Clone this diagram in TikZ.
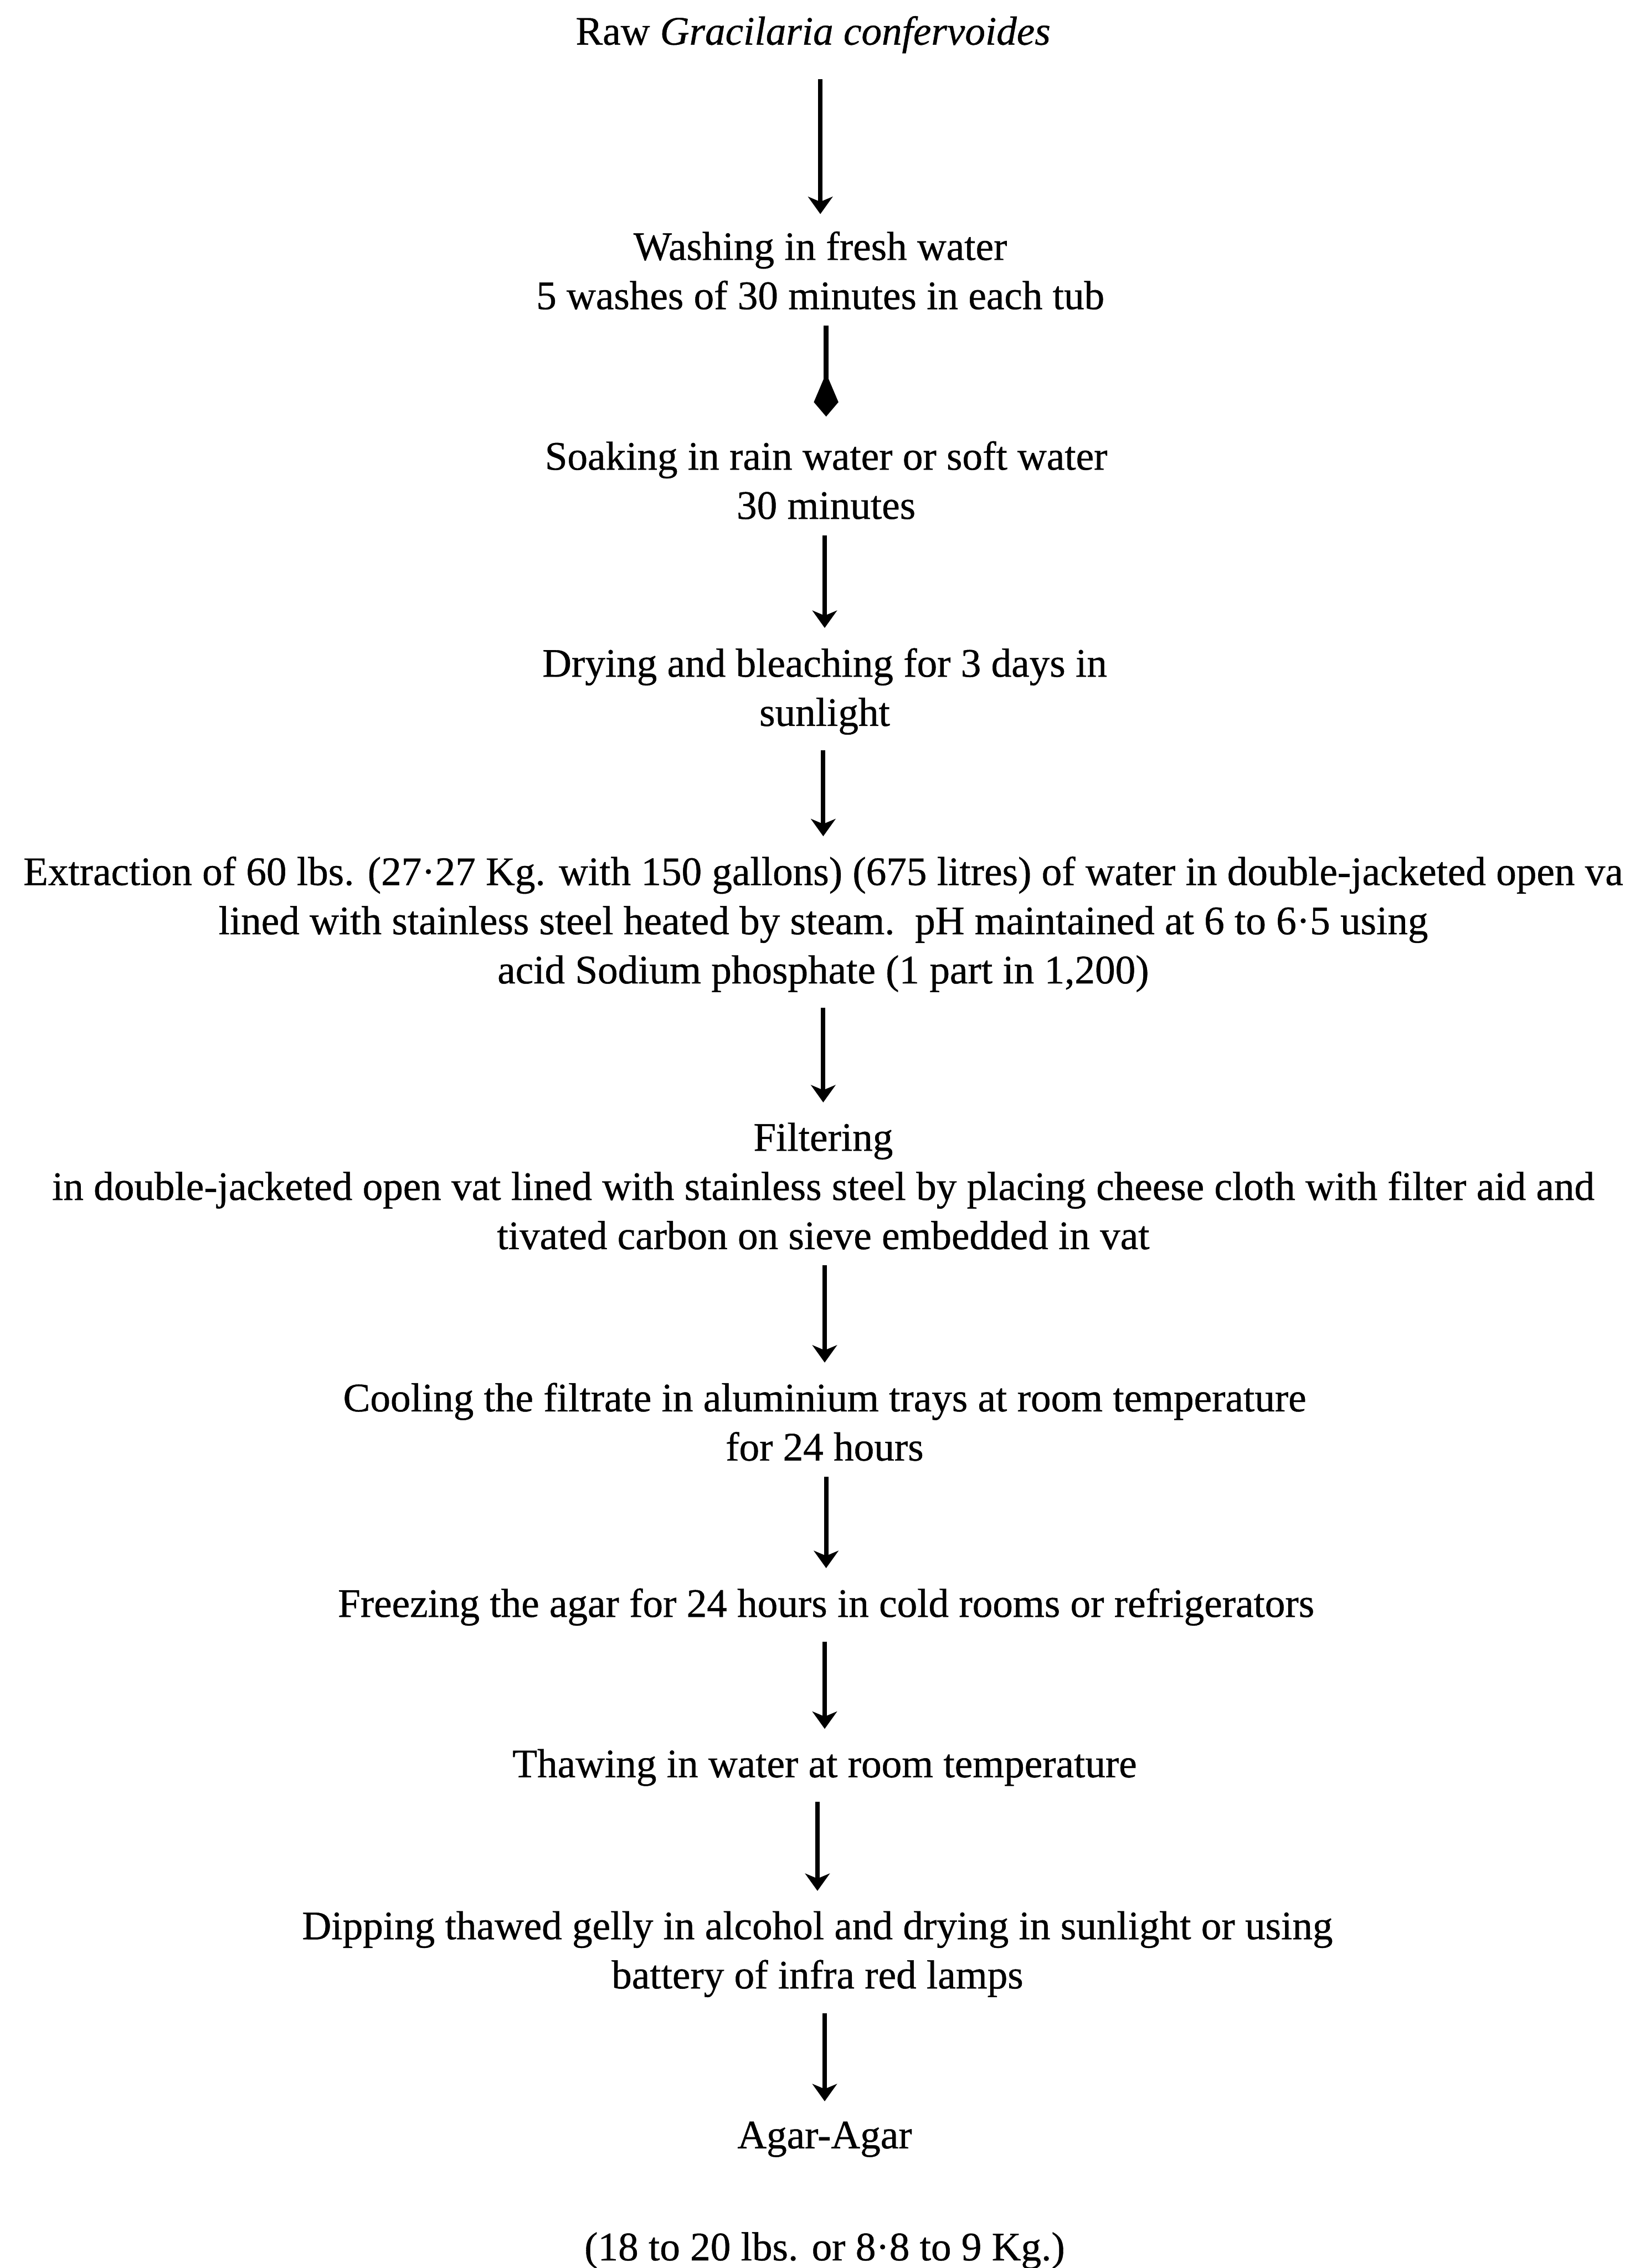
\documentclass[tikz,border=0pt]{standalone}
\usepackage{fontspec}
\setmainfont{Liberation Serif}[FakeBold=0.6]
\usetikzlibrary{arrows.meta}
\tikzset{
  txt/.style={align=center, inner sep=0pt, outer sep=0pt, font=\fontsize{28}{34}\selectfont},
  arr/.style={line width=3pt, -{Stealth[length=12pt, width=17pt, inset=3.5pt]}, shorten <=11pt, shorten >=14pt},
  kitearr/.style={line width=3.5pt, -{Kite[length=30pt, width=17pt, inset=20pt]}, shorten <=11pt, shorten >=17pt}
}
\begin{document}
\begin{tikzpicture}[x=1pt, y=1pt]
\useasboundingbox (0,0) rectangle (1123,-1568);
\fill[white] (0,0) rectangle (1123,-1568);
\node[txt] (n1) at (562,-24) {Raw \textit{Gracilaria confervoides}};
\node[txt] (n2) at (567,-187) {Washing in fresh water\\5 washes of 30 minutes in each tub};
\node[txt] (n3) at (571,-332) {Soaking in rain water or soft water\\30 minutes};
\node[txt] (n4) at (570,-478) {Drying and bleaching for 3 days in\\sunlight};
\node[txt] (n5) at (569,-639) {Extraction of 60 lbs. (27·27 Kg. with 150 gallons) (675 litres) of water in double-jacketed open va\\lined with stainless steel heated by steam.\ \ pH maintained at 6 to 6·5 using\\acid Sodium phosphate (1 part in 1,200)};
\node[txt] (n6) at (569,-820) {Filtering\\in double-jacketed open vat lined with stainless steel by placing cheese cloth with filter aid and\\tivated carbon on sieve embedded in vat};
\node[txt] (n7) at (570,-983) {Cooling the filtrate in aluminium trays at room temperature\\for 24 hours};
\node[txt] (n8) at (571,-1111) {Freezing the agar for 24 hours in cold rooms or refrigerators};
\node[txt] (n9) at (570,-1222) {Thawing in water at room temperature};
\node[txt] (n10) at (565,-1351) {Dipping thawed gelly in alcohol and drying in sunlight or using\\battery of infra red lamps};
\node[txt] (n11) at (570,-1479) {Agar-Agar};
\node[txt] (n12) at (570,-1556) {(18 to 20 lbs. or 8·8 to 9 Kg.)};

\draw[arr, shorten <=18pt, shorten >=12pt] (n1.south -| n2.north) -- (n2.north);
\draw[kitearr] (n2.south -| n3.north) -- (n3.north);
\draw[arr] (n3.south -| n4.north) -- (n4.north);
\draw[arr] (n4.south -| n5.north) -- (n5.north);
\draw[arr] (n5.south -| n6.north) -- (n6.north);
\draw[arr] (n6.south -| n7.north) -- (n7.north);
\draw[arr] (n7.south -| n8.north) -- (n8.north);
\draw[arr] (n8.south -| n9.north) -- (n9.north);
\draw[arr] (n9.south -| n10.north) -- (n10.north);
\draw[arr] (n10.south -| n11.north) -- (n11.north);
\end{tikzpicture}
\end{document}
